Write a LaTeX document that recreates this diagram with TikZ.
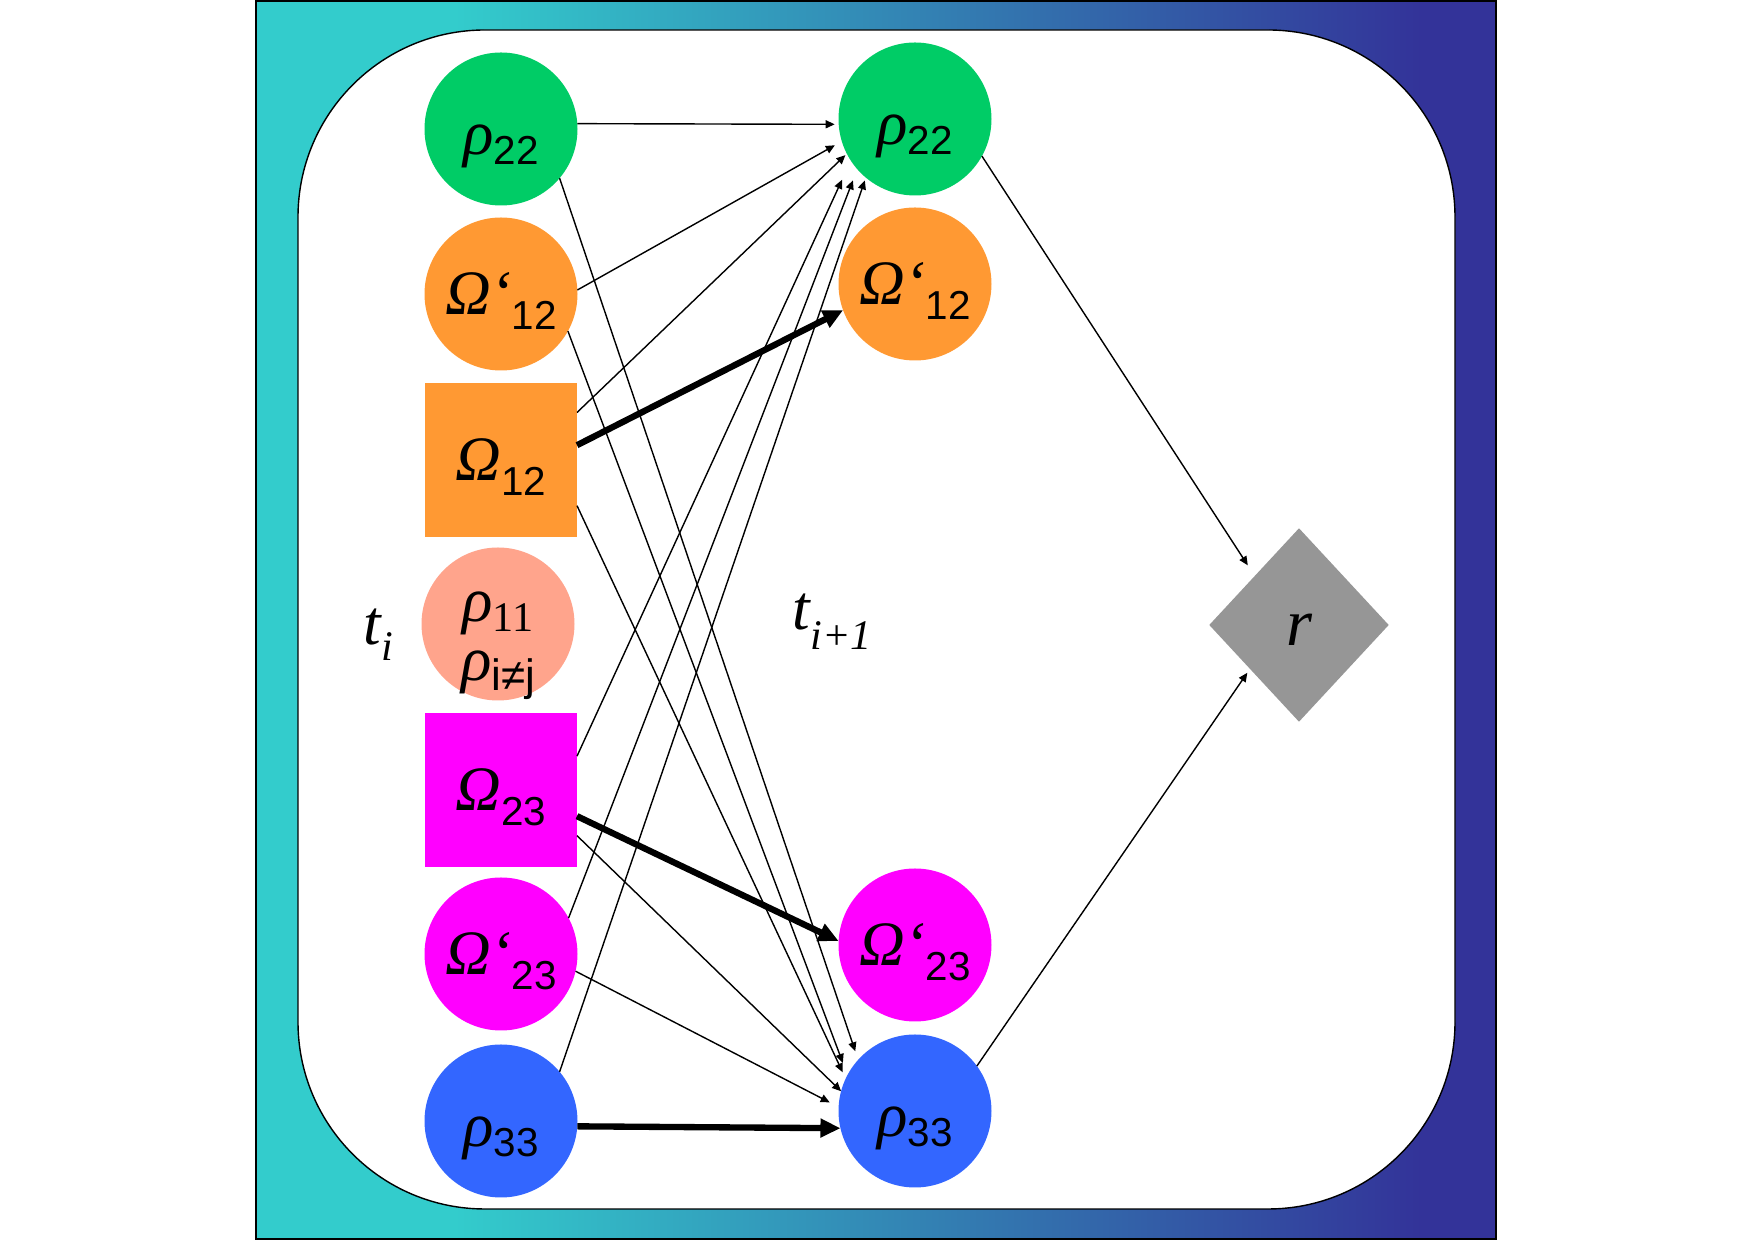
\documentclass[tikz,border=0pt]{standalone}
\usepackage{fontspec}
\setmainfont{Liberation Serif}
\setsansfont{Liberation Sans}
\usetikzlibrary{arrows.meta,shapes.geometric}

\definecolor{frteal}{HTML}{33CCCC}
\definecolor{frblue}{HTML}{333399}
\pgfdeclarehorizontalshading{framegrad}{100bp}{color(0bp)=(frteal); color(33bp)=(frteal); color(72bp)=(frblue); color(100bp)=(frblue)}

\newcommand{\gk}[1]{{\fontsize{18}{18}\selectfont\itshape #1}}
\newcommand{\sfsb}[2][.15cm]{\raisebox{-#1}{\fontsize{11.5}{11.5}\selectfont\sffamily #2}}
\newcommand{\rmsb}[1]{\raisebox{-.1cm}{\fontsize{12}{12}\selectfont #1}}

\begin{document}
\begin{tikzpicture}
  \definecolor{grn}{HTML}{00CC66}
  \definecolor{org}{HTML}{FF9933}
  \definecolor{slm}{HTML}{FFA48C}
  \definecolor{mag}{HTML}{FF00FF}
  \definecolor{blu}{HTML}{3366FF}
  \definecolor{gry}{HTML}{969696}
  \useasboundingbox (0,0) rectangle (17.54,12.41);
  % frame and white panel
  \shade[shading=framegrad,draw=black,line width=.5pt] (2.56,.02) rectangle (14.96,12.40);
  \filldraw[fill=white,draw=black,line width=.4pt,rounded corners=1.87cm] (2.98,.32) rectangle (14.55,12.11);

  \tikzset{
    state/.style={circle,minimum size=1.53cm,inner sep=0pt,outer sep=0pt},
    block/.style={rectangle,minimum width=1.52cm,minimum height=1.54cm,inner sep=0pt,outer sep=0pt},
    rholab/.style={text height=.52cm,text depth=0pt},
    omlab/.style={text height=.41cm,text depth=0pt},
    link/.style={-{Triangle[length=.9mm,width=.8mm]},line width=.4pt},
    strong/.style={-{Triangle[length=2mm,width=1.8mm]},line width=1.8pt}
  }

  % time step t_i
  \node[state,rholab,fill=grn] (l22) at (5.01,11.12) {\gk{ρ}\sfsb[.1cm]{22}};
  \node[state,omlab,fill=org] (l12p) at (5.01,9.47) {\gk{Ω‘}\sfsb{12}};
  \node[block,omlab,fill=org] (l12) at (5.01,7.81) {\gk{Ω}\sfsb{12}};
  \node[state,fill=slm,align=center,text height=1.14cm,text depth=0pt,font=\fontsize{18}{17}\selectfont] (l11) at (4.98,6.17)
    {\gk{ρ}\rmsb{11}\\\gk{ρ}\sfsb[.1cm]{\fontsize{12.5}{12.5}\selectfont i≠j}};
  \node[block,omlab,fill=mag] (l23) at (5.01,4.51) {\gk{Ω}\sfsb{23}};
  \node[state,omlab,fill=mag] (l23p) at (5.01,2.87) {\gk{Ω‘}\sfsb{23}};
  \node[state,rholab,fill=blu] (l33) at (5.01,1.20) {\gk{ρ}\sfsb[.1cm]{33}};

  % time step t_{i+1}
  \node[state,rholab,fill=grn] (r22) at (9.15,11.22) {\gk{ρ}\sfsb[.1cm]{22}};
  \node[state,omlab,fill=org] (r12p) at (9.15,9.57) {\gk{Ω‘}\sfsb{12}};
  \node[state,omlab,fill=mag] (r23p) at (9.15,2.96) {\gk{Ω‘}\sfsb{23}};
  \node[state,rholab,fill=blu] (r33) at (9.15,1.30) {\gk{ρ}\sfsb[.1cm]{33}};

  \node[diamond,fill=gry,minimum width=1.8cm,minimum height=1.94cm,inner sep=0pt,
    text height=.42cm,text depth=0pt] (rw) at (12.99,6.16)
    {\fontsize{19}{19}\selectfont\itshape r};

  \node[anchor=base west,inner sep=0pt] (ti) at (3.63,5.96)
    {{\fontsize{18}{18}\selectfont\itshape t}\raisebox{-.16cm}{\fontsize{12}{12}\selectfont\itshape i}};
  \node[anchor=base west,inner sep=0pt] (tnext) at (7.92,6.11)
    {{\fontsize{18}{18}\selectfont\itshape t}\raisebox{-.2cm}{\fontsize{12}{12}\selectfont\itshape i+1}};

  % into rho22
  \draw[link,shorten >=.4mm] (l22.4) -- (r22.184);
  \draw[link,shorten >=.8mm] (l12p.3) -- (r22.197);
  \draw[link,shorten >=.2mm] (l12.32) -- (r22.207);
  \draw[link,shorten >=2.1mm] (l23.24) -- (r22.213);
  \draw[link,shorten >=1.2mm] (l23p.28) -- (r22.221);
  \draw[link,shorten >=.3mm] (l33.40) -- (r22.230);
  % into rho33
  \draw[link,shorten >=.9mm] (l22.-40) -- (r33.138);
  \draw[link,shorten >=1.3mm] (l12p.-29) -- (r33.152);
  \draw[link,shorten >=.7mm] (l12.-31) -- (r33.155);
  \draw[link] (l23.-31) -- (r33.165);
  \draw[link,shorten >=1mm] (l23p.-13) -- (r33.177);
  % main transitions
  \draw[strong] (l12.11) -- (r12p.200);
  \draw[strong] (l23.-19) -- (r23p.177);
  \draw[strong] (l33.-4) -- (r33.193);
  % reward
  \draw[link,shorten >=1.2mm] (r22.-29) -- (rw.132);
  \draw[link,shorten >=.4mm] (r33.36) -- (rw.222);
\end{tikzpicture}
\end{document}
